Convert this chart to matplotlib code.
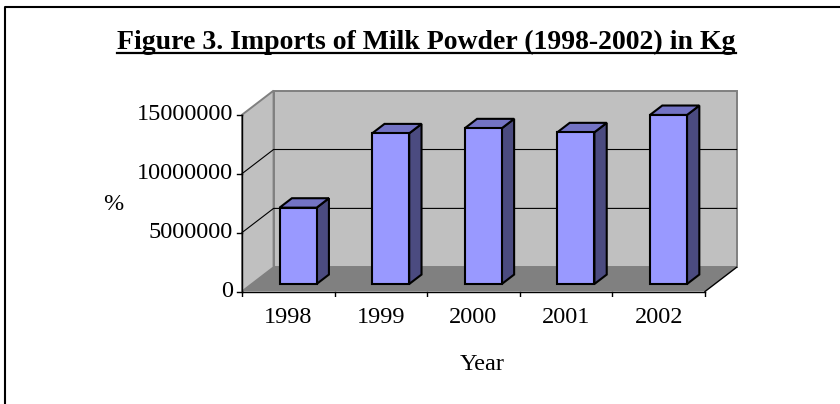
import matplotlib.pyplot as plt
from matplotlib.patches import Polygon
from matplotlib.lines import Line2D

YEARS = ["1998", "1999", "2000", "2001", "2002"]
IMPORTS_KG = [6480000, 12790000, 13220000, 12880000, 14350000]
Y_TICKS = [0, 5000000, 10000000, 15000000]
TITLE = "Figure 3. Imports of Milk Powder (1998-2002) in Kg"

FRONT = "#9999FF"
TOP = "#7373C4"
SIDE = "#4B4B80"
WALL = "#C0C0C0"
FLOOR = "#808080"
EDGE = "#808080"

# depth offset of the 3d box, in data units
DX = 0.341
DY = 2054000
BAR_D0, BAR_D1 = 0.31, 0.70
BAR_W = 0.4

plt.rcParams["font.family"] = ["Liberation Serif", "DejaVu Serif"]
LABEL_SIZE = 17.5

W, H = 840, 404
fig = plt.figure(figsize=(W / 100, H / 100), dpi=100)

# axes placed so the front plane maps to the reference pixels
px_cat = 92.6
px_val = 11.78 / 1e6
x0_px, y0_px = 242.0, 291.5
xlim = (-0.1, 5.5)
ylim = (-500000, 17500000)
left = x0_px + xlim[0] * px_cat
right = x0_px + xlim[1] * px_cat
bottom = y0_px - ylim[0] * px_val
top = y0_px - ylim[1] * px_val
ax = fig.add_axes([left / W, 1 - bottom / H, (right - left) / W, (bottom - top) / H])
ax.set_xlim(*xlim)
ax.set_ylim(*ylim)
ax.axis("off")

n = len(YEARS)
vmax = Y_TICKS[-1]


def poly(pts, fc, ec="none", lw=0.0, z=1):
    ax.add_patch(Polygon(pts, closed=True, facecolor=fc, edgecolor=ec,
                         linewidth=lw, zorder=z, joinstyle="miter"))


# walls and floor
poly([(0, 0), (0, vmax), (DX, vmax + DY), (DX, DY)], WALL, EDGE, 1.4)
poly([(DX, DY), (n + DX, DY), (n + DX, vmax + DY), (DX, vmax + DY)], WALL, EDGE, 1.4)
poly([(0, 0), (n, 0), (n + DX, DY), (DX, DY)], FLOOR, "none")

# gridlines
for v in Y_TICKS[1:-1]:
    ax.plot([0, DX, n + DX], [v, v + DY, v + DY], color="black", lw=0.8, zorder=2)

# axes lines and ticks
ax.plot([0, 0], [0, vmax], color="black", lw=1.0, zorder=3)
ax.plot([0, n], [0, 0], color="black", lw=1.0, zorder=3)
ax.plot([n, n + DX], [0, DY], color="black", lw=1.0, zorder=3)
for v in Y_TICKS:
    ax.plot([-0.055, 0], [v, v], color="black", lw=1.0, zorder=3)
    ax.text(-0.1, v, f"{v}", ha="right", va="center", fontsize=LABEL_SIZE)
for i in range(n + 1):
    ax.plot([i, i], [0, -450000], color="black", lw=1.0, zorder=3)

# bars
for i, (year, val) in enumerate(zip(YEARS, IMPORTS_KG)):
    xl = i + (1 - BAR_W) / 2
    xr = xl + BAR_W
    ox0, oy0 = BAR_D0 * DX, BAR_D0 * DY
    ox1, oy1 = BAR_D1 * DX, BAR_D1 * DY
    side = [(xr + ox0, oy0), (xr + ox1, oy1), (xr + ox1, val + oy1), (xr + ox0, val + oy0)]
    topf = [(xl + ox0, val + oy0), (xr + ox0, val + oy0), (xr + ox1, val + oy1), (xl + ox1, val + oy1)]
    front = [(xl + ox0, oy0), (xr + ox0, oy0), (xr + ox0, val + oy0), (xl + ox0, val + oy0)]
    poly(side, SIDE, "black", 1.5, 4)
    poly(topf, TOP, "black", 1.5, 4)
    poly(front, FRONT, "black", 1.5, 5)
    ax.text(i + 0.5, -2170000, year, ha="center", va="center", fontsize=LABEL_SIZE)

fig.text(481.7 / W, 1 - 364 / H, "Year", ha="center", va="center", fontsize=LABEL_SIZE)
fig.text(113 / W, 1 - 204 / H, "%", ha="center", va="center", fontsize=LABEL_SIZE)

title = fig.text(426.5 / W, 1 - 49.3 / H, TITLE, ha="center", va="baseline",
                 fontsize=20, fontweight="bold")

# underline the title, a few pixels under its baseline
fig.canvas.draw()
bb = title.get_window_extent().transformed(fig.transFigure.inverted())
uy = 1 - 52.8 / H
fig.add_artist(Line2D([bb.x0, bb.x1], [uy, uy],
                      transform=fig.transFigure, color="black", lw=1.6))

# frame of the figure (left and top edges only)
fig.add_artist(Line2D([5 / W, 5 / W, 1.0], [0.0, 1 - 7 / H, 1 - 7 / H],
                      transform=fig.transFigure, color="black", lw=1.5))

fig.savefig("out.png", dpi=100)
